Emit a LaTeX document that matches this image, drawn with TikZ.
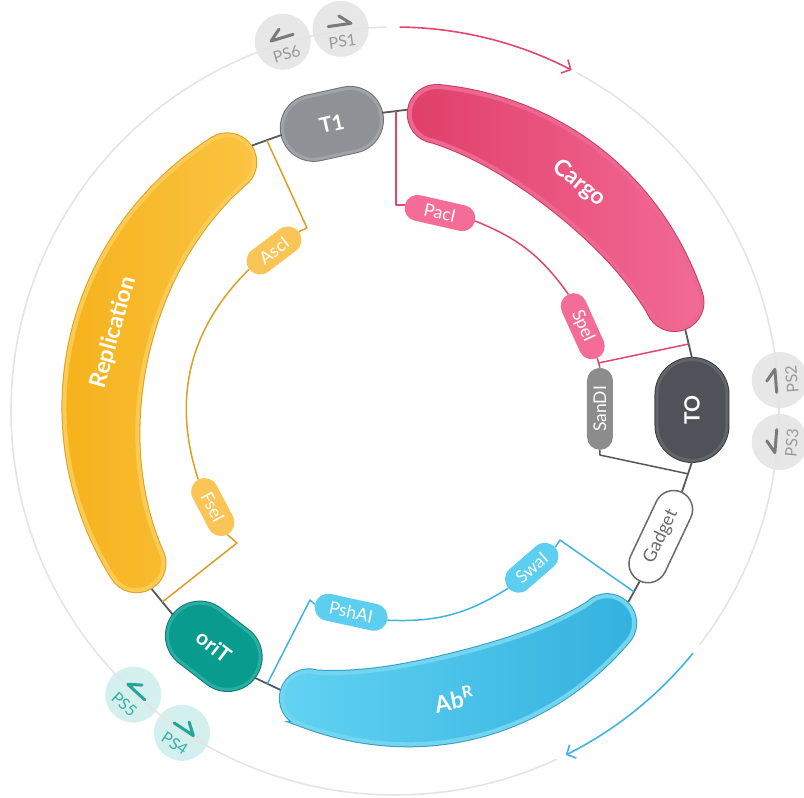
\documentclass[tikz,border=0pt]{standalone}
\usepackage{fontspec}
\setmainfont{Lato}
\usetikzlibrary{arrows.meta,calc,shapes.misc}
\definecolor{cargoL}{HTML}{E03F69}
\definecolor{cargoR}{HTML}{F26B96}
\definecolor{cargoBd}{HTML}{CC3A61}
\definecolor{cargoRing}{HTML}{EC6890}
\definecolor{replL}{HTML}{F5B21C}
\definecolor{replR}{HTML}{FBC443}
\definecolor{replBd}{HTML}{D9A21F}
\definecolor{replRing}{HTML}{FCCB55}
\definecolor{abL}{HTML}{62D3F3}
\definecolor{abR}{HTML}{33B1DE}
\definecolor{abBd}{HTML}{2E9DC8}
\definecolor{abRing}{HTML}{74D5F1}
\definecolor{tIFill}{HTML}{8E9196}
\definecolor{tIRing}{HTML}{A0A3A7}
\definecolor{tIBd}{HTML}{707378}
\definecolor{tOFill}{HTML}{4F5258}
\definecolor{tORing}{HTML}{62656A}
\definecolor{tOBd}{HTML}{3A3C40}
\definecolor{oriFill}{HTML}{0A9B8F}
\definecolor{oriRing}{HTML}{2AAEA3}
\definecolor{oriBd}{HTML}{0A7C72}
\definecolor{pinkSite}{HTML}{F36D97}
\definecolor{pinkLine}{HTML}{E0476F}
\definecolor{orSite}{HTML}{FBC456}
\definecolor{orLine}{HTML}{D9A023}
\definecolor{blSite}{HTML}{5CCEF0}
\definecolor{blLine}{HTML}{3DB4E1}
\definecolor{sanFill}{HTML}{8C8C8C}
\definecolor{gadBd}{HTML}{6A6A6A}
\definecolor{bbcol}{HTML}{54575C}
\definecolor{outerCol}{HTML}{E4E4E4}
\definecolor{psFill}{HTML}{E7E7E7}
\definecolor{psChev}{HTML}{7A7A7A}
\definecolor{psText}{HTML}{9A9A9A}
\definecolor{tealFill}{HTML}{D4F0EE}
\definecolor{tealChev}{HTML}{22A699}
\definecolor{tealText}{HTML}{38B0A5}
\definecolor{pinkArr}{HTML}{E2476E}
\definecolor{blueArr}{HTML}{3CB5E2}
\tikzset{
  bbline/.style={draw=bbcol, line width=1.8pt},
  conn/.style={draw=#1, line width=1.5pt, line join=round},
  ringpill/.style n args={3}{rounded rectangle, inner sep=0pt, fill=#1, draw=#2, line width=3pt,
     preaction={draw=#3, line width=5pt}, text=white, font=\fontsize{21}{21}\selectfont\bfseries},
  site/.style={rounded rectangle, inner sep=0pt, fill=#1, text=white, font=\fontsize{17.5}{17.5}\selectfont},
  barlbl/.style={text=white, font=\fontsize{23}{23}\selectfont\bfseries, inner sep=0pt},
  pscirc/.style={circle, inner sep=0pt, minimum size=56pt, draw=none},
  chev/.style={draw=#1, line width=3pt, line cap=round, line join=round},
  pslbl/.style={text=#1, font=\fontsize{16}{16}\selectfont, inner sep=0pt},
  outerc/.style={draw=outerCol, line width=1.6pt},
  arrc/.style={draw=#1, line width=1.6pt, -{Straight Barb[length=7pt,width=15pt,line width=1.6pt]}},
}
% banana-shaped bar: #1 ccw end angle, #2 cw end angle, #3 outer bulge, #4 inner bulge, #5 options
\newcommand{\plbar}[5]{%
  \path[#5] plot[domain=#2:#1, samples=60, variable=\t] ({\t}:{327+#3*sin(180*(\t-#2)/(#1-#2))})
    arc[start angle=#1, end angle=#1+180, radius=27]
    -- plot[domain=#1:#2, samples=60, variable=\t] ({\t}:{273-#4*sin(180*(\t-#2)/(#1-#2))})
    arc[start angle=#2+180, end angle=#2+360, radius=27] -- cycle;}
\begin{document}
\begin{tikzpicture}[x=1pt,y=1pt]
\useasboundingbox (-395,-387) rectangle (409,411);

% primer-site discs
\foreach \n/\a in {ps6/106.9, ps1/98.1, ps2/4.6, ps3/-4.6}
  \node[pscirc, fill=psFill] (\n) at (\a:386) {};
\foreach \n/\a in {ps5/227.3, ps4/236.5}
  \node[pscirc, fill=tealFill] (\n) at (\a:386) {};

% outer ring and direction arrows
\draw[outerc] (91.2:384) arc[start angle=91.2, end angle=294.9, radius=384];
\draw[outerc] (-37.5:384) arc[start angle=-37.5, end angle=61.8, radius=384];
\draw[arrc=pinkArr] (89.3:384) arc[start angle=89.3, end angle=62.6, radius=384];
\draw[arrc=blueArr] (-39.1:384) arc[start angle=-39.1, end angle=-63.6, radius=384];

% primer-site marks
\begin{scope}[shift={(ps6)}, rotate=16.9, transform shape]
  \draw[chev=psChev] (0,13) -- (-11,4) -- (12,4);
  \node[pslbl=psText] (ps6t) at (0,-13) {PS6};
\end{scope}
\begin{scope}[shift={(ps1)}, rotate=8.1, transform shape]
  \draw[chev=psChev] (-12,4) -- (11,4) -- (0,13);
  \node[pslbl=psText] (ps1t) at (0,-13) {PS1};
\end{scope}
\begin{scope}[shift={(ps2)}, rotate=94.6, transform shape]
  \draw[chev=psChev] (-12,4) -- (11,4) -- (0,13);
  \node[pslbl=psText] (ps2t) at (0,-12) {PS2};
\end{scope}
\begin{scope}[shift={(ps3)}, rotate=85.4, transform shape]
  \draw[chev=psChev] (0,13) -- (-11,4) -- (12,4);
  \node[pslbl=psText] (ps3t) at (0,-12) {PS3};
\end{scope}
\begin{scope}[shift={(ps5)}, rotate=317.3, transform shape]
  \draw[chev=tealChev] (0,13) -- (-11,4) -- (12,4);
  \node[pslbl=tealText] (ps5t) at (0,-13) {PS5};
\end{scope}
\begin{scope}[shift={(ps4)}, rotate=326.5, transform shape]
  \draw[chev=tealChev] (-12,4) -- (11,4) -- (0,13);
  \node[pslbl=tealText] (ps4t) at (0,-13) {PS4};
\end{scope}

% feature bars
\plbar{82}{21.3}{4}{16}{left color=cargoL, right color=cargoR, draw=cargoRing, line width=4pt, preaction={draw=cargoBd, line width=6pt}}
\plbar{210.5}{124}{4}{18}{left color=replL, right color=replR, draw=replRing, line width=4pt, preaction={draw=replBd, line width=6pt}}
\plbar{315}{253.3}{8}{22}{left color=abL, right color=abR, draw=abRing, line width=4pt, preaction={draw=abBd, line width=6pt}}
\coordinate (cargoA) at ($(82:300)+(172:30)$);
\coordinate (cargoB) at ($(21.3:300)+(-68.7:30)$);
\coordinate (replA) at ($(210.5:300)+(300.5:30)$);
\coordinate (replB) at ($(124:300)+(34:30)$);
\coordinate (abA) at ($(315:300)+(45:30)$);
\coordinate (abB) at ($(253.3:300)+(163.3:30)$);
\node[barlbl, rotate=-39] (cargoLbl) at (51:293) {Cargo};
\node[barlbl, rotate=74.4] (replLbl) at (164.4:292) {Replication};
\node[barlbl, rotate=11.6] (abLbl) at (281.6:294) {Ab\textsuperscript{R}};

% elements on the backbone
\node[ringpill={tIFill}{tIRing}{tIBd}, minimum width=100pt, minimum height=63pt, rotate=12.4] (T1) at (102.4:294) {T1};
\node[ringpill={tOFill}{tORing}{tOBd}, minimum width=101pt, minimum height=70pt, rotate=90] (T0) at (0.2:297) {TO};
\node[ringpill={oriFill}{oriRing}{oriBd}, minimum width=100pt, minimum height=65pt, rotate=-37.6] (oriT) at (232.4:297) {oriT};
\node[rounded rectangle, inner sep=0pt, fill=white, draw=gadBd, line width=1.5pt, text=gadBd,
      font=\fontsize{18}{18}\selectfont, minimum width=98pt, minimum height=38pt, rotate=64.7] (Gadget) at (334.7:294) {Gadget};

% restriction sites
\node[site=pinkSite, minimum width=72pt, minimum height=26pt, rotate=-12.8] (PacI) at (77.2:203) {PacI};
\node[site=pinkSite, minimum width=70pt, minimum height=26pt, rotate=-65.7] (SpeI) at (24.3:206) {SpeI};
\node[site=sanFill, minimum width=82pt, minimum height=26pt, rotate=90] (SanDI) at (0.6:205) {SanDI};
\node[site=orSite, minimum width=62pt, minimum height=27pt, rotate=37] (AscI) at (127:201) {AscI};
\node[site=orSite, minimum width=62pt, minimum height=27pt, rotate=-62.2] (FseI) at (207.8:206) {FseI};
\node[site=blSite, minimum width=74pt, minimum height=27pt, rotate=-12.3] (PshAI) at (257.7:206) {PshAI};
\node[site=blSite, minimum width=62pt, minimum height=27pt, rotate=41] (SwaI) at (311.1:208) {SwaI};

% backbone segments
\draw[bbline] (replB) -- (T1.west);
\draw[bbline] (T1.east) -- (cargoA);
\draw[bbline] (cargoB) -- (T0.east);
\draw[bbline] (T0.west) -- (Gadget.east);
\draw[bbline] (Gadget.west) -- (abA);
\draw[bbline] (abB) -- (oriT.east);
\draw[bbline] (oriT.west) -- (replA);

% junctions and corners
\coordinate (J0) at ($(T1.east)!0.55!(cargoA)$);
\coordinate (J1) at ($(cargoB)!0.5!(T0.east)$);
\coordinate (J2) at ($(T0.west)!0.4!(Gadget.east)$);
\coordinate (J3) at ($(Gadget.west)!0.5!(abA)$);
\coordinate (J4) at ($(abB)!0.5!(oriT.east)$);
\coordinate (J5) at ($(oriT.west)!0.5!(replA)$);
\coordinate (J6) at ($(replB)!0.5!(T1.west)$);
\coordinate (Jsp) at ($(SpeI.east)!0.5!(SanDI.east)$);
\coordinate (c6) at (-88,183);
\coordinate (c5) at (-158,-132);
\coordinate (c4) at (-85,-189);
\coordinate (c3) at (165,-129);

% connectors
\draw[conn=pinkLine] (J0) |- (PacI.west);
\draw[conn=pinkLine] (PacI.east) to[bend left=16.5] (SpeI.west);
\draw[conn=pinkLine] (SpeI.east) -- (SanDI.east);
\draw[conn=pinkLine] (Jsp) -- (J1);
\draw[conn=bbcol] (SanDI.west) -- ++(0,-5) -- (J2);
\draw[conn=orLine] (J6) -- (c6) -- (AscI.east);
\draw[conn=orLine] (AscI.west) to[bend right=31.7] (FseI.west);
\draw[conn=orLine] (FseI.east) -- (c5) -- (J5);
\draw[conn=blLine] (J4) -- (c4) -- (PshAI.west);
\draw[conn=blLine] (PshAI.east) to[bend right=17.4] (SwaI.west);
\draw[conn=blLine] (SwaI.east) -- (c3) -- (J3);
\end{tikzpicture}
\end{document}
